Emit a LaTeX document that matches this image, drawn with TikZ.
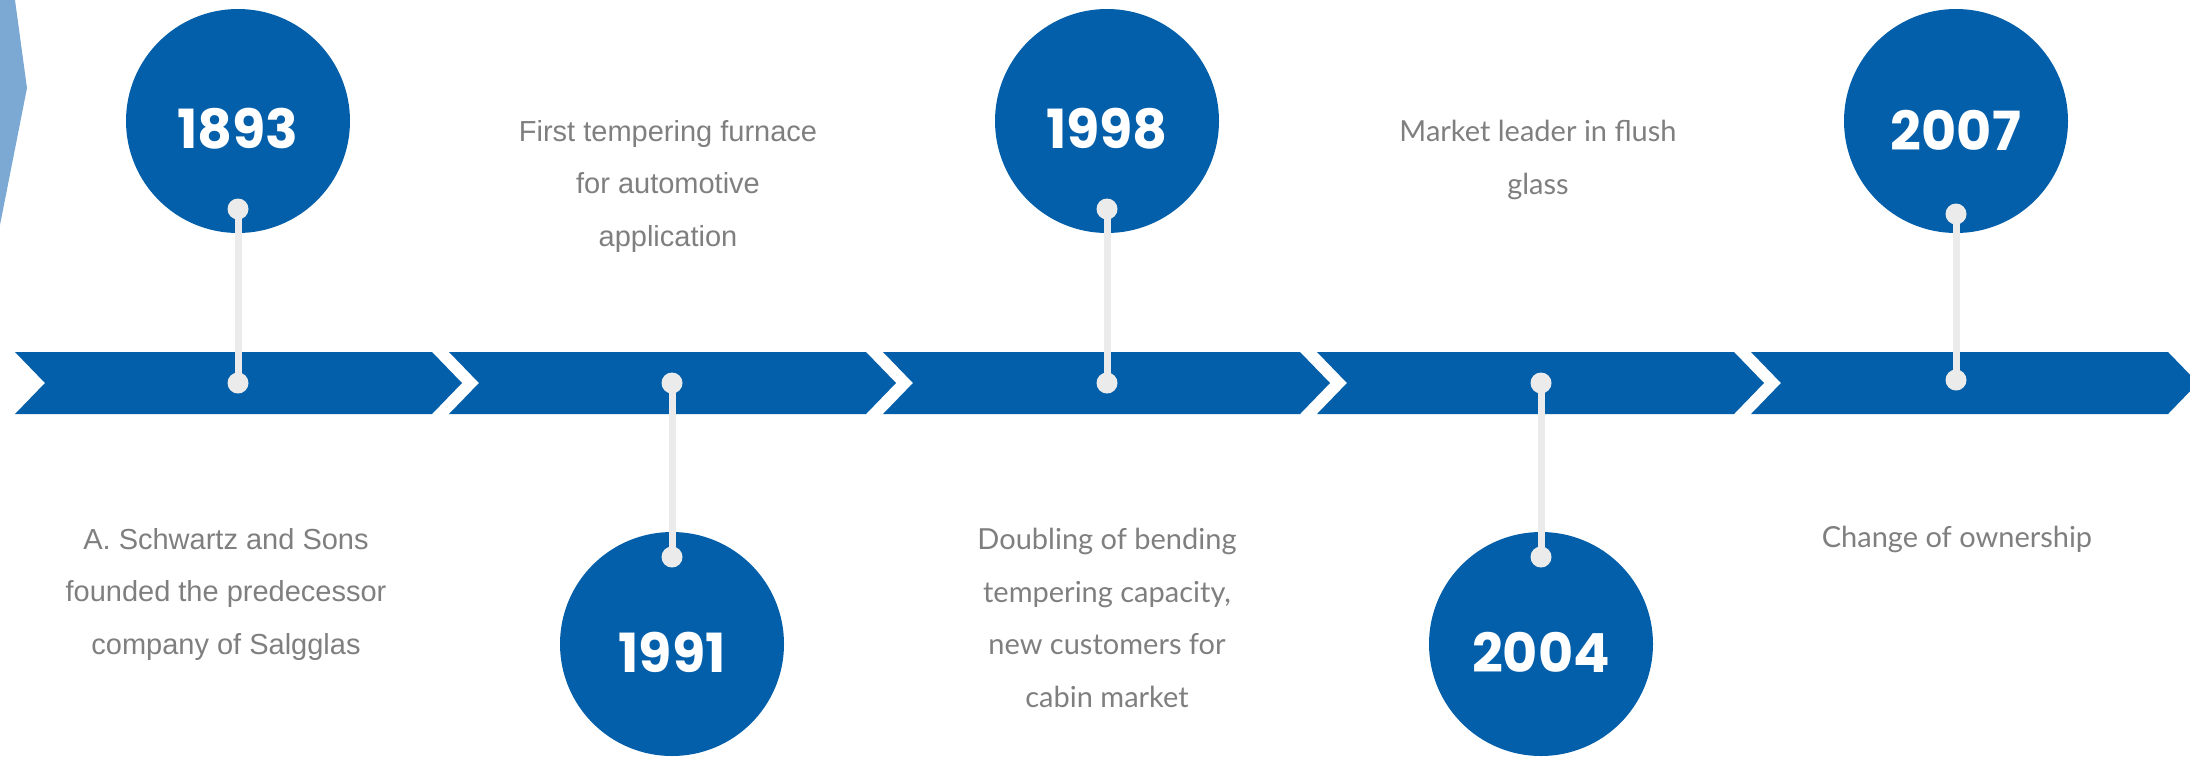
\documentclass[tikz,border=0pt]{standalone}
\usepackage{fontspec}
\setmainfont{Lato}
\newfontfamily\yearfont{Poppins}
\newfontfamily\arialfont{Liberation Sans}
\definecolor{barblue}{HTML}{035FAA}
\definecolor{lightblue}{HTML}{7BA9D4}
\definecolor{pingray}{HTML}{EBEBEB}
\definecolor{descgray}{HTML}{7F7F7F}
\tikzset{
  segbox/.style={fill=barblue},
  yearcircle/.style={circle, fill=barblue, minimum size=224pt, inner sep=0pt},
  yeartext/.style={text=white, inner sep=0pt, font=\yearfont\bfseries\fontsize{54}{54}\selectfont},
  pinnode/.style={circle, fill=pingray, minimum size=21pt, inner sep=0pt},
  stem/.style={draw=pingray, line width=7pt},
  desc/.style={text=descgray, align=center, inner sep=0pt, font=\fontsize{29}{52.5}\selectfont},
  descarial/.style={desc, font=\arialfont\fontsize{29}{52.5}\selectfont},
}
\newcommand{\segshape}[1]{%
  \fill[segbox] (#1,352) -- ++(417,0) -- ++(30,31) -- ++(-30,31) -- ++(-417,0) -- ++(30,-31) -- cycle;}
\begin{document}
\begin{tikzpicture}[x=1pt,y=-1pt]
\useasboundingbox (0,0) rectangle (2190,756);
\clip (0,0) rectangle (2190,756);
% decorative light blue shape
\fill[lightblue] (0,0) -- (15,0) -- (27,88) -- (0,225) -- cycle;
% bar segments
\segshape{15}
\segshape{449}
\segshape{883}
\segshape{1317}
\segshape{1751}
% circles
\node[yearcircle] (c1893) at (238,121) {};
\node[yearcircle] (c1991) at (672,644) {};
\node[yearcircle] (c1998) at (1107,121) {};
\node[yearcircle] (c2004) at (1541,644) {};
\node[yearcircle] (c2007) at (1956,121) {};
\node[yeartext] (t1893) at ([yshift=-8pt]c1893.center) {1893};
\node[yeartext] (t1991) at ([yshift=-8pt]c1991.center) {1991};
\node[yeartext] (t1998) at ([yshift=-8pt]c1998.center) {1998};
\node[yeartext] (t2004) at ([yshift=-8pt]c2004.center) {2004};
\node[yeartext] (t2007) at ([yshift=-9pt]c2007.center) {2007};
% pins
\node[pinnode] (p1a) at (238,209) {};
\node[pinnode] (p1b) at (238,383) {};
\node[pinnode] (p2a) at (672,383) {};
\node[pinnode] (p2b) at (672,557) {};
\node[pinnode] (p3a) at (1107,209) {};
\node[pinnode] (p3b) at (1107,383) {};
\node[pinnode] (p4a) at (1541,383) {};
\node[pinnode] (p4b) at (1541,557) {};
\node[pinnode] (p5a) at (1956,214) {};
\node[pinnode] (p5b) at (1956,380) {};
\draw[stem] (p1a.center) -- (p1b.center);
\draw[stem] (p2a.center) -- (p2b.center);
\draw[stem] (p3a.center) -- (p3b.center);
\draw[stem] (p4a.center) -- (p4b.center);
\draw[stem] (p5a.center) -- (p5b.center);
% descriptions
\node[descarial] (d1893) at (226,594) {A. Schwartz and Sons\\founded the predecessor\\company of Salgglas};
\node[descarial] (d1991) at (668,186) {First tempering furnace\\for automotive\\application};
\node[desc] (d1998) at (1107,618) {Doubling of bending\\tempering capacity,\\new customers for\\cabin market};
\node[desc] (d2004) at (1538,160) {Market leader in flush\\glass};
\node[desc] (d2007) at (1957,539) {Change of ownership};
\end{tikzpicture}
\end{document}
